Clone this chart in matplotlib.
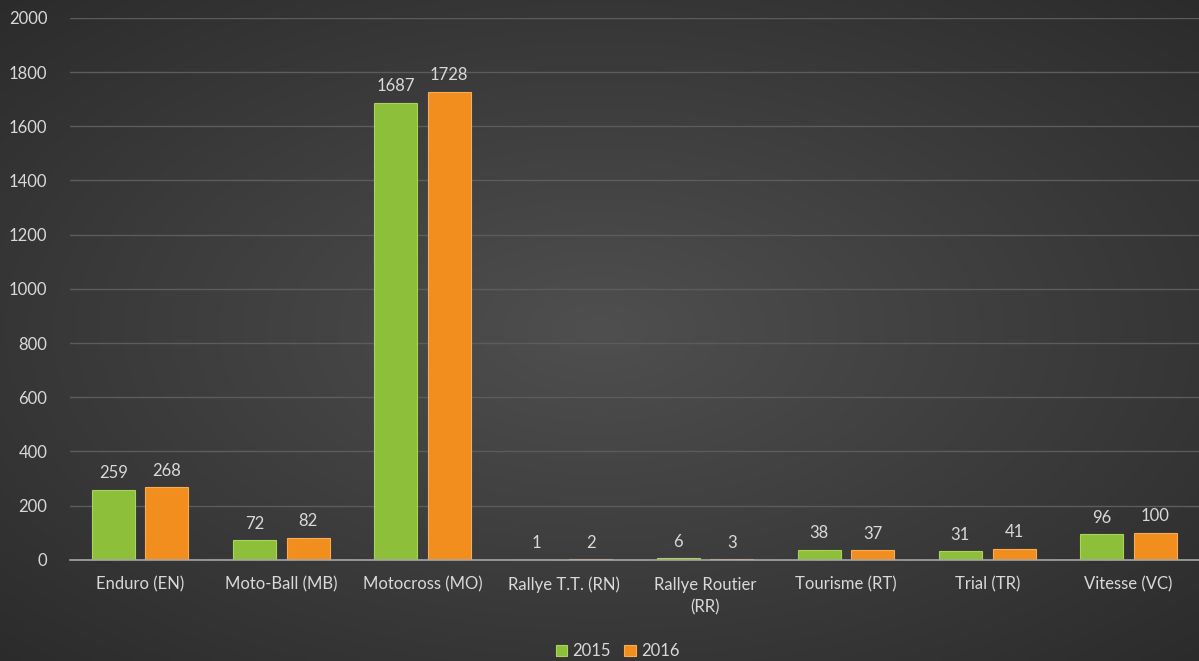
import numpy as np
import matplotlib
matplotlib.use("Agg")
import matplotlib.pyplot as plt

categories = ["Enduro (EN)", "Moto-Ball (MB)", "Motocross (MO)", "Rallye T.T. (RN)",
              "Rallye Routier\n(RR)", "Tourisme (RT)", "Trial (TR)", "Vitesse (VC)"]
values_2015 = [259, 72, 1687, 1, 6, 38, 31, 96]
values_2016 = [268, 82, 1728, 2, 3, 37, 41, 100]
series_labels = ["2015", "2016"]

plt.rcParams['font.family'] = ['Lato', 'DejaVu Sans']
text_col = '#d9d9d9'

fig = plt.figure(figsize=(11.99, 6.61), dpi=100)

# radial gradient background
bg = fig.add_axes([0, 0, 1, 1], zorder=-10)
yy, xx = np.mgrid[-1:1:300j, -1:1:540j]
r = np.sqrt(xx ** 2 + yy ** 2) / np.sqrt(2)
shade = 0.31 - 0.14 * r
bg.imshow(np.dstack([shade, shade, shade]), aspect='auto', extent=[0, 1, 0, 1])
bg.axis('off')

ax = fig.add_axes([0.058, 0.153, 0.942, 0.82])
ax.patch.set_alpha(0)

x = np.arange(len(categories))
w = 0.305
off = 0.19
b1 = ax.bar(x - off, values_2015, w, color='#8dbf3a', edgecolor='#a9d35a', linewidth=0.8,
            label=series_labels[0], zorder=3)
b2 = ax.bar(x + off, values_2016, w, color='#f28e1e', edgecolor='#f7ad55', linewidth=0.8,
            label=series_labels[1], zorder=3)

for bars, vals in ((b1, values_2015), (b2, values_2016)):
    for rect, v in zip(bars, vals):
        ax.annotate(str(v), (rect.get_x() + rect.get_width() / 2, v),
                    xytext=(0, 6), textcoords='offset points', ha='center', va='bottom',
                    color=text_col, fontsize=12)

ax.set_xlim(-0.5, len(categories) - 0.5)
ax.set_ylim(0, 2000)
ax.set_yticks(range(0, 2001, 200))
ax.set_xticks(x)
ax.set_xticklabels(categories, linespacing=1.5)
ax.tick_params(axis='both', length=0, colors=text_col, labelsize=12)
ax.tick_params(axis='x', pad=12)
ax.tick_params(axis='y', pad=16)
ax.yaxis.grid(True, color='#5c5c5c', linewidth=1, zorder=0)
for s in ['top', 'right', 'left']:
    ax.spines[s].set_visible(False)
ax.spines['bottom'].set_color('#a6a6a6')
ax.spines['bottom'].set_linewidth(1.2)
ax.spines['bottom'].set_zorder(4)

leg = fig.legend(loc='lower center', bbox_to_anchor=(0.515, -0.02), ncol=2, frameon=False,
                 fontsize=12, handlelength=0.7, handleheight=0.7, handletextpad=0.3,
                 columnspacing=0.8)
for t in leg.get_texts():
    t.set_color(text_col)

fig.savefig('out.png', dpi=100)
